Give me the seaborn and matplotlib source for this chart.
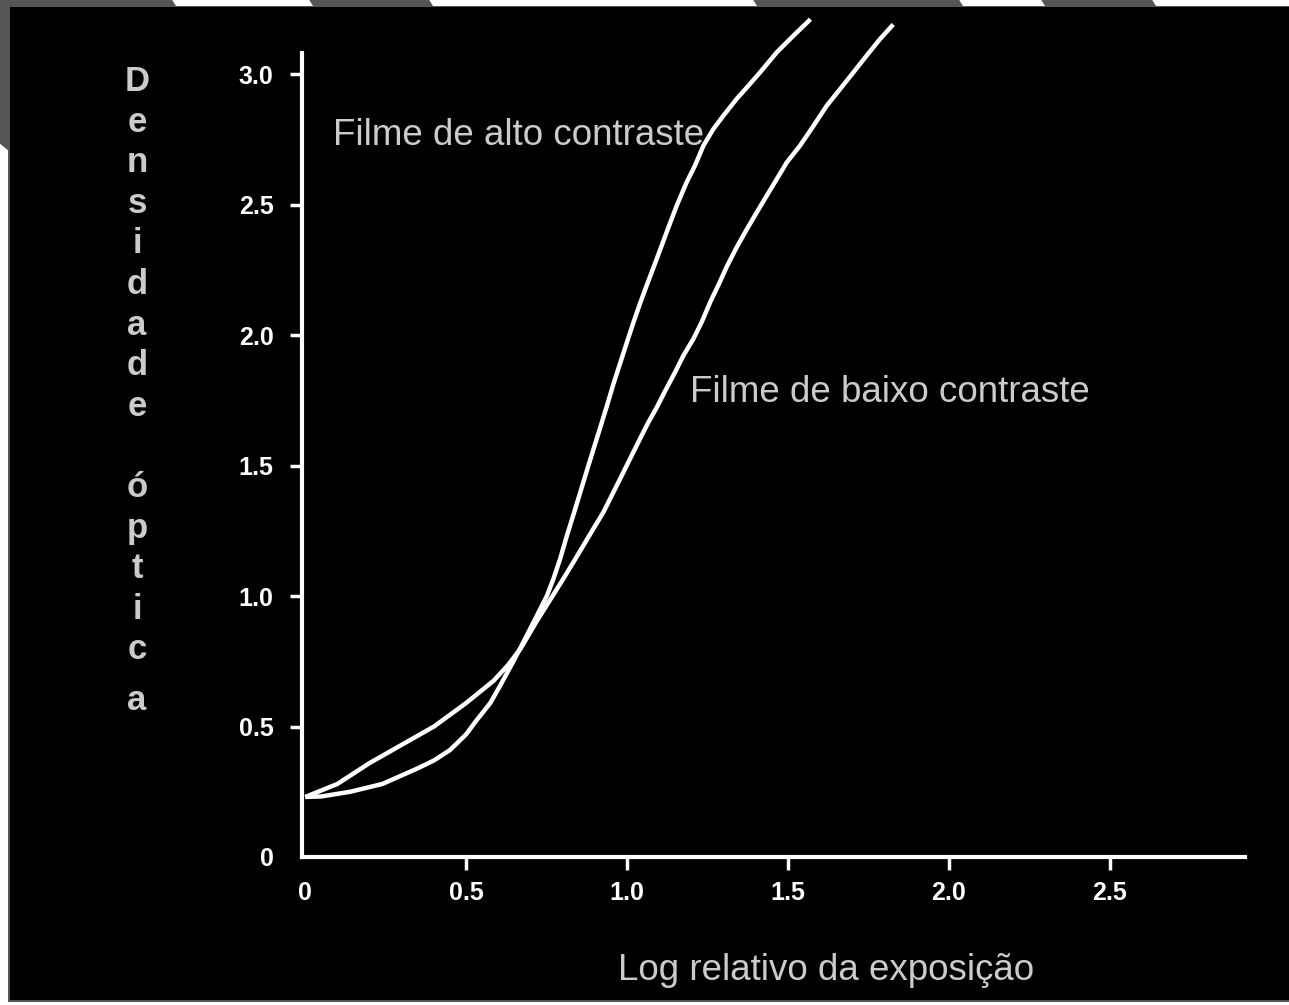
import matplotlib
matplotlib.use("Agg")
import matplotlib.pyplot as plt
from matplotlib.patches import Polygon, Rectangle
import pandas as pd
import seaborn as sns

# ---------------- data ----------------
alto_x = [0.0, 0.05, 0.14, 0.24, 0.35, 0.40, 0.45, 0.50, 0.53, 0.575, 0.605,
          0.647, 0.689, 0.72, 0.751, 0.771, 0.792, 0.813, 0.833, 0.854, 0.875,
          0.895, 0.916, 0.937, 0.957, 0.978, 0.999, 1.02, 1.04, 1.061, 1.092,
          1.123, 1.154, 1.185, 1.211, 1.237, 1.268, 1.299, 1.34, 1.372, 1.413,
          1.465, 1.517, 1.57]
alto_y = [0.23, 0.232, 0.25, 0.28, 0.34, 0.37, 0.41, 0.47, 0.52, 0.59, 0.655,
          0.75, 0.85, 0.925, 1.001, 1.065, 1.142, 1.231, 1.31, 1.395, 1.48,
          1.56, 1.643, 1.727, 1.81, 1.89, 1.97, 2.049, 2.12, 2.19, 2.291,
          2.394, 2.495, 2.585, 2.649, 2.725, 2.789, 2.84, 2.904, 2.948, 3.006,
          3.083, 3.147, 3.21]

baixo_x = [0.0, 0.05, 0.1, 0.2, 0.3, 0.4, 0.5, 0.585, 0.63, 0.67, 0.72, 0.771,
           0.802, 0.833, 0.864, 0.895, 0.926, 0.952, 0.978, 1.009, 1.04, 1.066,
           1.092, 1.118, 1.149, 1.175, 1.206, 1.232, 1.258, 1.289, 1.309, 1.34,
           1.372, 1.403, 1.434, 1.465, 1.496, 1.537, 1.579, 1.62, 1.661, 1.703,
           1.744, 1.786, 1.827]
baixo_y = [0.23, 0.255, 0.28, 0.36, 0.43, 0.50, 0.59, 0.675, 0.735, 0.80, 0.905,
           1.005, 1.066, 1.129, 1.193, 1.257, 1.32, 1.384, 1.448, 1.525, 1.602,
           1.665, 1.722, 1.785, 1.857, 1.921, 1.985, 2.05, 2.125, 2.205, 2.26,
           2.335, 2.405, 2.47, 2.534, 2.597, 2.661, 2.725, 2.801, 2.878, 2.941,
           3.006, 3.07, 3.134, 3.19]

x_ticks = [0, 0.5, 1.0, 1.5, 2.0, 2.5]
x_ticklabels = ["0", "0.5", "1.0", "1.5", "2.0", "2.5"]
y_ticks = [0, 0.5, 1.0, 1.5, 2.0, 2.5, 3.0]
y_ticklabels = ["0", "0.5", "1.0", "1.5", "2.0", "2.5", "3.0"]

label_alto = "Filme de alto contraste"
label_baixo = "Filme de baixo contraste"
x_label = "Log relativo da exposição"
y_label = "Densidade óptica"

# ---------------- style ----------------
sns.set_style("ticks")
plt.rcParams["font.family"] = ["Liberation Sans", "DejaVu Sans"]

W, H = 1289, 1005
fig = plt.figure(figsize=(W / 100, H / 100), dpi=100, facecolor="black")


def fx(px):
    return px / W


def fy(py):
    return 1 - py / H


GRAY = "#555555"
TXT = "#cbcbcb"


def rect(x0, y0, x1, y1, color, z):
    fig.patches.append(Rectangle((fx(x0), fy(y1)), fx(x1) - fx(x0), fy(y0) - fy(y1),
                                 transform=fig.transFigure, facecolor=color,
                                 edgecolor="none", zorder=z))


def poly(pts, color, z):
    fig.patches.append(Polygon([(fx(a), fy(b)) for a, b in pts], closed=True,
                               transform=fig.transFigure, facecolor=color,
                               edgecolor="none", zorder=z))


# slide border decoration
rect(-2, -2, W + 2, 7, GRAY, -9)
for a, b in [(171, 308), (428, 752), (958, 1040), (1151, 1300)]:
    poly([(a, -2), (b, -2), (b + 5, 6), (a + 5, 6)], "white", -8)
rect(-2, 143, 8, H + 2, "white", -8)
rect(8, 150, 10, 1002, GRAY, -8)
poly([(-2, -2), (10, -2), (10, 152), (-2, 142)], GRAY, -8)
rect(8, 1000, W + 2, 1002, GRAY, -8)
rect(8, 1002, W + 2, H + 2, "white", -8)

# ---------------- axes ----------------
ax = fig.add_axes([fx(302), fy(857), fx(1245) - fx(302), fy(14) - fy(857)])
ax.set_facecolor("none")

df = pd.concat([
    pd.DataFrame({"x": alto_x, "y": alto_y, "filme": label_alto}),
    pd.DataFrame({"x": baixo_x, "y": baixo_y, "filme": label_baixo}),
])
sns.lineplot(data=df, x="x", y="y", hue="filme", sort=False, estimator=None,
             palette=["white", "white"], linewidth=3.2, legend=False, ax=ax)
for ln in ax.lines:
    ln.set_solid_joinstyle("round")
    ln.set_solid_capstyle("butt")

ax.set_xlim(-0.01, 2.92)
ax.set_ylim(0, 3.23)
ax.set_xlabel("")
ax.set_ylabel("")

for s in ["top", "right"]:
    ax.spines[s].set_visible(False)
for s in ["left", "bottom"]:
    ax.spines[s].set_color("white")
    ax.spines[s].set_linewidth(3)
ax.spines["left"].set_bounds(0, 3.08)

ax.set_xticks(x_ticks)
ax.set_xticklabels(x_ticklabels)
ax.set_yticks(y_ticks)
ax.set_yticklabels(y_ticklabels)
ax.tick_params(axis="x", direction="out", length=9.5, width=2.5, color="white",
               pad=8, labelcolor="white", labelsize=18)
ax.tick_params(axis="y", direction="out", length=8.5, width=2.5, color="white",
               pad=12, labelcolor="white", labelsize=18)
for lab in ax.get_xticklabels() + ax.get_yticklabels():
    lab.set_fontweight("bold")
ax.xaxis.get_major_ticks()[0].tick1line.set_visible(False)
ax.yaxis.get_major_ticks()[0].tick1line.set_visible(False)

# ---------------- texts ----------------
fig.text(fx(333), fy(145), label_alto, color=TXT, fontsize=26.5,
         ha="left", va="baseline")
fig.text(fx(690), fy(402), label_baixo, color=TXT, fontsize=26.5,
         ha="left", va="baseline")
fig.text(fx(618), fy(980), x_label, color=TXT, fontsize=26.5,
         ha="left", va="baseline")

# vertical stacked y label
n = len(y_label)
for k, ch in enumerate(y_label):
    if ch == " ":
        continue
    base = 91 + 40.6 * k + (10 if k == n - 1 else 0)
    fig.text(fx(137), fy(base), ch, color=TXT, fontsize=25, fontweight="bold",
             ha="center", va="baseline")

fig.savefig("out.png", dpi=100, facecolor=fig.get_facecolor())
